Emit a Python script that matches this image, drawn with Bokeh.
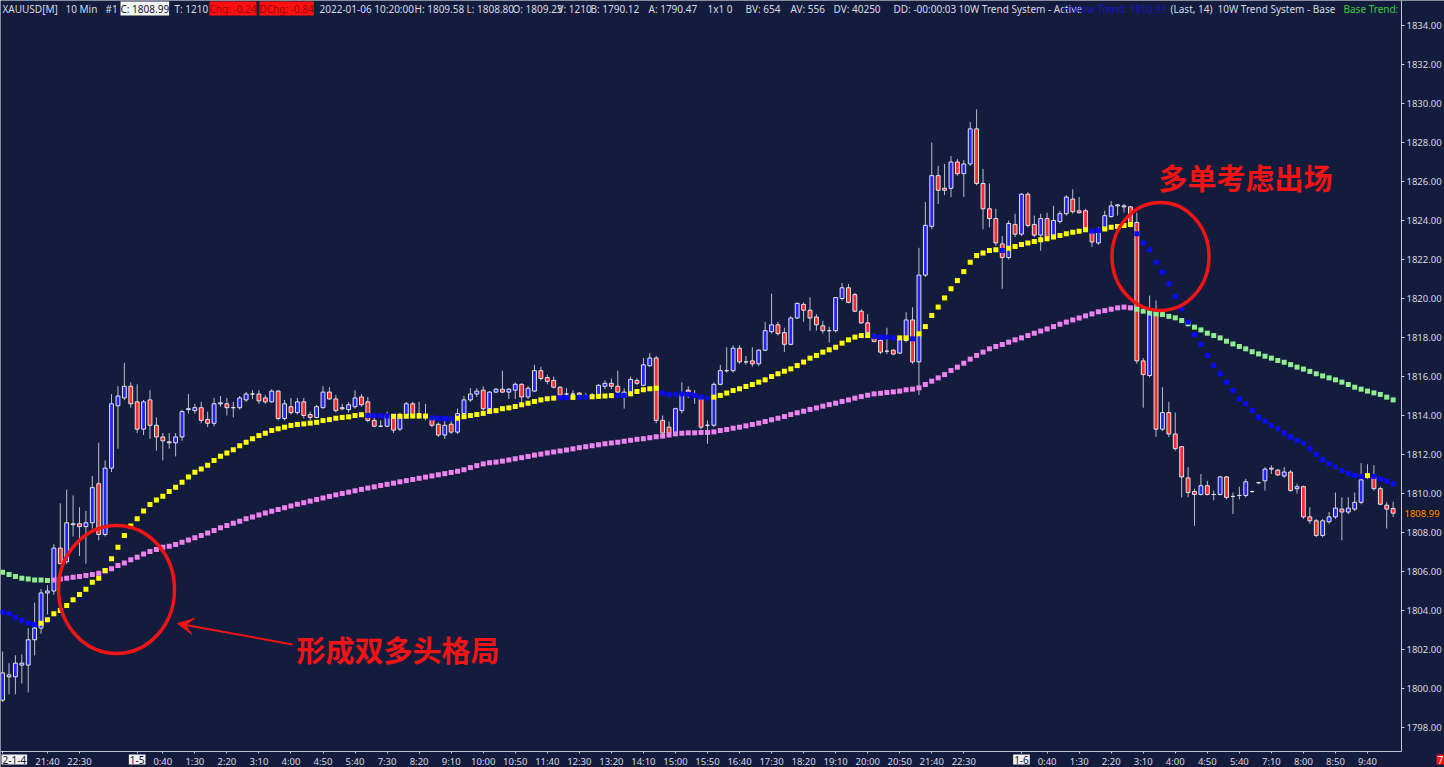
from bokeh.plotting import figure
from bokeh.models import (Range1d, FixedTicker, SingleIntervalTicker, NumeralTickFormatter,
                          Label, Arrow, VeeHead, ColumnDataSource)
from bokeh.embed import file_html
from bokeh.resources import INLINE

# ---------------- data (10-minute bars, XAUUSD) ----------------
open_ = [
    1799.4, 1800.6, 1800.6, 1801.2, 1801.2, 1802.5, 1803.1, 1804.9, 1805.0, 1807.2,
    1806.5, 1808.4, 1808.45, 1808.3, 1808.5, 1810.5, 1807.9, 1811.3, 1814.5, 1814.9,
    1815.5, 1814.7, 1813.3, 1814.8, 1813.5, 1812.9, 1812.65, 1812.6, 1812.9, 1814.3,
    1814.25, 1814.4, 1813.8, 1813.6, 1814.6, 1814.6, 1814.4, 1814.4, 1814.8, 1815.1,
    1815.1, 1814.9, 1814.7, 1815.25, 1813.85, 1814.45, 1814.15, 1814.7, 1814.05, 1813.9,
    1814.4, 1815.2, 1814.85, 1814.4, 1814.3, 1814.45, 1814.95, 1814.7, 1813.75, 1813.45,
    1813.45, 1813.85, 1813.3, 1814.05, 1814.6, 1814.1, 1813.95, 1813.85, 1813.55, 1813.0,
    1813.55, 1813.15, 1814.1, 1814.8, 1815.1, 1815.3, 1814.35, 1815.2, 1815.35, 1815.2,
    1815.3, 1815.6, 1814.95, 1815.25, 1816.3, 1815.95, 1815.8, 1815.45, 1815.1, 1815.1,
    1815.15, 1815.0, 1815.0, 1815.05, 1815.5, 1815.65, 1815.5, 1814.95, 1815.2, 1815.8,
    1815.55, 1816.55, 1816.95, 1813.75, 1813.4, 1813.05, 1814.25, 1815.3, 1815.1, 1814.85,
    1813.5, 1813.5, 1815.6, 1816.3, 1816.3, 1817.45, 1816.75, 1816.8, 1816.65, 1817.35,
    1818.3, 1818.65, 1818.25, 1817.65, 1819.0, 1819.7, 1819.4, 1819.05, 1818.6, 1818.35,
    1818.35, 1820.0, 1820.55, 1820.2, 1819.35, 1818.75, 1818.0, 1817.85, 1817.3, 1817.35,
    1817.2, 1817.85, 1818.9, 1816.75, 1821.2, 1823.7, 1826.3, 1825.65, 1825.65, 1827.0,
    1826.4, 1826.9, 1828.7, 1825.9, 1824.6, 1824.1, 1822.8, 1822.1, 1823.8, 1823.3,
    1825.35, 1823.8, 1823.25, 1824.1, 1823.25, 1823.95, 1824.35, 1825.1, 1824.5, 1824.5,
    1823.35, 1822.85, 1823.55, 1824.2, 1824.75, 1824.75, 1824.7, 1823.9, 1816.8, 1816.05,
    1819.4, 1813.3, 1814.15, 1813.05, 1812.4, 1810.8, 1810.1, 1809.95, 1810.4, 1809.95,
    1809.95, 1810.85, 1809.85, 1809.9, 1809.9, 1810.1, 1810.55, 1810.65, 1811.25, 1811.2,
    1810.9, 1811.1, 1810.25, 1810.35, 1808.8, 1808.6, 1807.85, 1808.55, 1808.8, 1809.2,
    1809.05, 1809.2, 1809.55, 1810.85, 1810.85, 1810.25, 1809.4, 1809.23,
]
high = [
    1801.9, 1801.3, 1801.7, 1801.75, 1803.1, 1804.4, 1805.1, 1805.3, 1807.4, 1809.5,
    1810.2, 1809.9, 1809.3, 1809.1, 1810.9, 1812.6, 1811.7, 1815.1, 1815.5, 1816.7,
    1815.7, 1815.6, 1814.8, 1815.3, 1813.9, 1813.1, 1813.1, 1813.1, 1814.3, 1815.1,
    1814.6, 1814.7, 1814.2, 1814.9, 1815.0, 1814.9, 1814.7, 1815.0, 1815.2, 1815.3,
    1815.3, 1815.05, 1815.35, 1815.3, 1814.8, 1814.9, 1814.9, 1814.9, 1814.2, 1814.55,
    1815.5, 1815.45, 1815.05, 1814.6, 1814.7, 1815.3, 1815.1, 1814.95, 1813.95, 1813.75,
    1814.2, 1814.05, 1814.15, 1814.7, 1814.7, 1814.7, 1814.6, 1814.0, 1813.65, 1813.75,
    1813.75, 1814.35, 1815.0, 1815.4, 1815.4, 1815.5, 1815.25, 1815.4, 1816.3, 1815.4,
    1815.7, 1815.65, 1815.5, 1816.6, 1816.5, 1816.1, 1816.0, 1815.5, 1815.4, 1815.3,
    1815.2, 1815.15, 1815.15, 1815.6, 1815.8, 1815.9, 1816.3, 1815.4, 1816.0, 1815.9,
    1816.95, 1817.2, 1817.05, 1814.0, 1813.7, 1814.4, 1815.7, 1815.5, 1815.3, 1814.95,
    1813.75, 1815.7, 1816.6, 1817.5, 1817.6, 1817.6, 1817.05, 1817.5, 1817.4, 1818.8,
    1820.25, 1818.8, 1818.5, 1819.1, 1819.8, 1819.8, 1820.05, 1819.2, 1818.85, 1818.55,
    1820.05, 1820.8, 1820.75, 1820.3, 1819.45, 1819.2, 1818.2, 1818.0, 1818.5, 1817.4,
    1818.0, 1819.3, 1819.55, 1822.6, 1824.95, 1828.0, 1826.8, 1826.9, 1827.3, 1827.15,
    1827.1, 1829.05, 1829.7, 1826.65, 1825.9, 1824.6, 1823.2, 1824.0, 1824.35, 1825.4,
    1825.45, 1824.25, 1824.35, 1824.4, 1824.75, 1824.5, 1825.3, 1825.6, 1825.2, 1824.6,
    1823.55, 1823.65, 1824.5, 1825.0, 1824.85, 1824.85, 1824.75, 1824.4, 1816.95, 1820.15,
    1819.9, 1815.45, 1814.7, 1814.15, 1812.4, 1811.35, 1810.25, 1811.0, 1810.65, 1810.15,
    1810.9, 1810.9, 1810.05, 1810.35, 1810.75, 1810.15, 1810.6, 1811.35, 1811.45, 1811.25,
    1811.35, 1811.2, 1810.5, 1810.4, 1809.3, 1808.7, 1808.7, 1809.05, 1810.05, 1809.8,
    1809.8, 1810.05, 1811.55, 1811.5, 1811.45, 1810.35, 1809.55, 1809.58,
]
low = [
    1799.3, 1799.7, 1799.7, 1800.25, 1799.8, 1801.7, 1802.8, 1803.8, 1804.8, 1806.4,
    1806.4, 1807.8, 1806.8, 1806.4, 1808.2, 1807.6, 1807.8, 1811.1, 1812.3, 1814.8,
    1814.4, 1813.1, 1813.0, 1812.8, 1812.2, 1811.7, 1812.3, 1811.9, 1812.7, 1814.1,
    1814.1, 1813.6, 1813.4, 1813.45, 1814.45, 1814.0, 1813.9, 1814.3, 1814.7, 1814.85,
    1814.6, 1814.6, 1814.65, 1813.75, 1813.75, 1814.05, 1814.05, 1813.85, 1813.75, 1813.85,
    1814.35, 1814.8, 1814.15, 1814.25, 1814.15, 1814.35, 1814.45, 1813.65, 1813.4, 1813.4,
    1813.4, 1813.1, 1813.2, 1813.95, 1813.95, 1813.85, 1813.75, 1813.4, 1812.9, 1812.8,
    1813.05, 1813.05, 1814.0, 1814.7, 1814.95, 1814.25, 1814.25, 1815.15, 1815.15, 1814.85,
    1814.85, 1814.6, 1814.85, 1815.2, 1815.8, 1815.6, 1815.4, 1814.95, 1814.95, 1814.95,
    1815.0, 1814.85, 1814.9, 1815.0, 1815.35, 1815.35, 1814.95, 1814.35, 1815.15, 1815.55,
    1815.5, 1816.5, 1813.6, 1812.95, 1812.9, 1812.95, 1814.1, 1814.9, 1814.6, 1813.3,
    1812.55, 1813.4, 1815.55, 1816.2, 1816.2, 1816.65, 1816.6, 1816.5, 1816.55, 1817.3,
    1818.2, 1818.1, 1817.25, 1817.6, 1818.95, 1818.8, 1818.35, 1818.35, 1818.2, 1817.75,
    1818.25, 1819.9, 1819.75, 1819.3, 1818.7, 1818.2, 1817.75, 1817.15, 1817.15, 1817.1,
    1817.15, 1817.75, 1816.65, 1815.05, 1821.1, 1823.55, 1824.85, 1825.3, 1825.2, 1826.3,
    1825.2, 1826.8, 1825.8, 1823.55, 1823.65, 1822.7, 1820.5, 1822.0, 1823.15, 1823.2,
    1823.65, 1823.15, 1822.45, 1823.05, 1823.15, 1823.85, 1824.25, 1824.35, 1824.35, 1823.5,
    1822.65, 1822.75, 1823.5, 1824.15, 1824.25, 1824.4, 1823.65, 1816.65, 1814.4, 1815.95,
    1812.9, 1813.2, 1812.9, 1812.2, 1809.8, 1809.8, 1808.35, 1809.9, 1809.9, 1809.65,
    1809.9, 1809.7, 1808.95, 1809.7, 1809.8, 1810.05, 1810.5, 1810.15, 1811.0, 1810.9,
    1810.8, 1810.1, 1810.0, 1808.7, 1808.45, 1807.75, 1807.75, 1808.45, 1808.7, 1807.6,
    1808.95, 1809.1, 1809.45, 1810.75, 1810.15, 1809.4, 1808.2, 1808.8,
]
close_ = [
    1800.8, 1800.7, 1801.3, 1801.3, 1802.5, 1803.1, 1804.9, 1805.0, 1807.2, 1806.4,
    1808.5, 1808.45, 1808.3, 1808.5, 1810.3, 1807.9, 1811.3, 1814.6, 1815.0, 1815.5,
    1814.6, 1813.3, 1814.7, 1813.5, 1812.9, 1812.7, 1812.6, 1812.9, 1814.2, 1814.35,
    1814.4, 1813.75, 1813.6, 1814.6, 1814.65, 1814.4, 1814.4, 1814.9, 1815.1, 1815.1,
    1814.75, 1814.7, 1815.25, 1813.85, 1814.6, 1814.15, 1814.7, 1814.0, 1813.9, 1814.45,
    1815.2, 1814.85, 1814.25, 1814.35, 1814.55, 1814.9, 1814.55, 1813.75, 1813.45, 1813.45,
    1814.0, 1813.25, 1814.05, 1814.6, 1814.05, 1814.1, 1813.95, 1813.5, 1813.0, 1813.5,
    1813.15, 1814.1, 1814.8, 1815.1, 1815.25, 1814.35, 1815.2, 1815.35, 1815.2, 1815.35,
    1815.6, 1814.95, 1815.4, 1816.3, 1815.9, 1815.75, 1815.45, 1815.05, 1815.1, 1815.1,
    1815.05, 1815.0, 1815.05, 1815.55, 1815.65, 1815.5, 1815.2, 1815.2, 1815.85, 1815.65,
    1816.6, 1816.95, 1813.75, 1813.1, 1813.1, 1814.35, 1815.1, 1815.2, 1815.1, 1813.4,
    1813.5, 1815.6, 1816.3, 1816.3, 1817.45, 1816.75, 1816.75, 1816.65, 1817.35, 1818.35,
    1818.65, 1818.2, 1817.65, 1819.0, 1819.75, 1819.4, 1819.0, 1818.65, 1818.35, 1818.35,
    1820.05, 1820.55, 1819.8, 1819.35, 1818.75, 1818.25, 1817.8, 1817.25, 1817.3, 1817.15,
    1817.9, 1818.9, 1816.75, 1821.2, 1823.75, 1826.3, 1825.55, 1825.55, 1827.0, 1826.4,
    1826.9, 1828.7, 1825.9, 1824.6, 1824.1, 1822.85, 1822.1, 1823.85, 1823.3, 1825.35,
    1823.75, 1823.25, 1824.1, 1823.15, 1824.0, 1824.35, 1825.2, 1824.45, 1824.4, 1823.6,
    1822.9, 1823.4, 1824.25, 1824.75, 1824.8, 1824.7, 1823.85, 1816.8, 1816.1, 1819.4,
    1813.3, 1814.15, 1813.05, 1812.3, 1810.85, 1810.05, 1809.95, 1810.4, 1809.95, 1809.95,
    1810.85, 1809.8, 1809.85, 1809.9, 1810.6, 1810.1, 1810.55, 1811.25, 1811.3, 1810.95,
    1811.1, 1810.15, 1810.35, 1808.8, 1808.6, 1807.85, 1808.6, 1808.8, 1809.25, 1809.05,
    1809.25, 1809.55, 1810.7, 1810.85, 1810.25, 1809.45, 1809.2, 1808.99,
]

# "10W Trend System - Active" line (u = yellow / rising, d = blue / falling)
fast_vals = [
    1803.91, 1803.83, 1803.66, 1803.49, 1803.35, 1803.28, 1803.35, 1803.52, 1803.83, 1804.00,
    1804.26, 1804.55, 1804.82, 1805.09, 1805.45, 1805.66, 1806.05, 1806.65, 1807.25, 1807.85,
    1808.33, 1808.70, 1809.10, 1809.43, 1809.67, 1809.86, 1810.10, 1810.32, 1810.58, 1810.84,
    1811.09, 1811.26, 1811.45, 1811.69, 1811.91, 1812.08, 1812.24, 1812.45, 1812.63, 1812.81,
    1812.97, 1813.09, 1813.23, 1813.32, 1813.40, 1813.49, 1813.54, 1813.57, 1813.61, 1813.65,
    1813.74, 1813.79, 1813.86, 1813.90, 1813.93, 1814.00, 1814.04, 1814.00, 1814.00, 1813.98,
    1813.98, 1813.96, 1813.96, 1813.96, 1813.97, 1813.97, 1813.97, 1813.88, 1813.86, 1813.84,
    1813.83, 1813.86, 1813.94, 1814.00, 1814.05, 1814.11, 1814.21, 1814.25, 1814.35, 1814.39,
    1814.46, 1814.55, 1814.63, 1814.72, 1814.80, 1814.86, 1814.89, 1814.91, 1814.91, 1814.93,
    1814.93, 1814.94, 1814.96, 1814.98, 1815.00, 1815.02, 1815.03, 1815.03, 1815.11, 1815.23,
    1815.32, 1815.37, 1815.40, 1815.15, 1815.08, 1815.08, 1815.11, 1815.08, 1815.03, 1814.94,
    1814.89, 1814.94, 1815.03, 1815.15, 1815.28, 1815.37, 1815.49, 1815.59, 1815.71, 1815.83,
    1816.00, 1816.14, 1816.27, 1816.39, 1816.56, 1816.74, 1816.94, 1817.08, 1817.25, 1817.37,
    1817.50, 1817.71, 1817.88, 1818.02, 1818.10, 1818.10, 1818.05, 1818.02, 1818.02, 1817.98,
    1817.98, 1817.98, 1817.93, 1818.19, 1818.56, 1819.13, 1819.56, 1820.03, 1820.50, 1820.92,
    1821.38, 1821.86, 1822.20, 1822.33, 1822.46, 1822.50, 1822.46, 1822.58, 1822.67, 1822.77,
    1822.84, 1822.92, 1823.01, 1823.06, 1823.15, 1823.23, 1823.32, 1823.40, 1823.45, 1823.52,
    1823.45, 1823.49, 1823.57, 1823.66, 1823.69, 1823.74, 1823.79, 1823.32, 1822.85, 1822.50,
    1821.86, 1821.35, 1820.75, 1820.10, 1819.47, 1818.79, 1818.15, 1817.64, 1817.08, 1816.56,
    1816.14, 1815.71, 1815.28, 1814.85, 1814.60, 1814.26, 1813.91, 1813.71, 1813.49, 1813.32,
    1813.10, 1812.89, 1812.72, 1812.58, 1812.29, 1812.00, 1811.73, 1811.52, 1811.35, 1811.18,
    1811.04, 1810.92, 1810.87, 1810.92, 1810.87, 1810.75, 1810.63, 1810.50,
]
fast_state = ("dddddduuuu" "uuuuuuuuuu" "uuuuuuuuuu" "uuuuuuuuuu" "uuuuuuuuuu"
              "uuuuuuuddd" "duuuuuuddd" "duuuuuuuuu" "uuuuuuuddu" "dduuuudduu"
              "uuuddddddd" "duuuuuuuuu" "uuuuuuuuuu" "uuuuuudddd" "uuduuuuuuu"
              "uuuuuuduuu" "uuuuuuuuuu" "dduuuuuddd" "dddddddddd" "dddddddddd"
              "dddddddddd" "dddudddd")

# "10W Trend System - Base" line (p = pink / rising, g = green / falling)
slow_vals = [
    1805.96, 1805.85, 1805.74, 1805.66, 1805.61, 1805.57, 1805.57, 1805.54, 1805.57, 1805.62,
    1805.66, 1805.71, 1805.74, 1805.79, 1805.85, 1805.91, 1806.02, 1806.14, 1806.31, 1806.44,
    1806.60, 1806.73, 1806.90, 1807.03, 1807.13, 1807.25, 1807.30, 1807.38, 1807.50, 1807.62,
    1807.73, 1807.85, 1807.97, 1808.10, 1808.24, 1808.36, 1808.48, 1808.58, 1808.70, 1808.80,
    1808.90, 1809.00, 1809.09, 1809.18, 1809.27, 1809.36, 1809.45, 1809.53, 1809.61, 1809.69,
    1809.77, 1809.85, 1809.93, 1810.00, 1810.07, 1810.14, 1810.21, 1810.28, 1810.34, 1810.41,
    1810.47, 1810.53, 1810.60, 1810.66, 1810.72, 1810.78, 1810.84, 1810.90, 1810.96, 1811.02,
    1811.08, 1811.14, 1811.22, 1811.33, 1811.43, 1811.52, 1811.58, 1811.61, 1811.66, 1811.72,
    1811.78, 1811.84, 1811.90, 1811.97, 1812.02, 1812.08, 1812.13, 1812.18, 1812.23, 1812.29,
    1812.35, 1812.40, 1812.45, 1812.50, 1812.55, 1812.59, 1812.63, 1812.68, 1812.73, 1812.78,
    1812.81, 1812.86, 1812.91, 1812.94, 1813.00, 1813.06, 1813.09, 1813.11, 1813.11, 1813.13,
    1813.13, 1813.16, 1813.23, 1813.28, 1813.35, 1813.40, 1813.47, 1813.54, 1813.61, 1813.69,
    1813.78, 1813.86, 1813.95, 1814.05, 1814.14, 1814.22, 1814.31, 1814.39, 1814.48, 1814.56,
    1814.63, 1814.72, 1814.80, 1814.89, 1814.97, 1815.04, 1815.11, 1815.14, 1815.18, 1815.21,
    1815.25, 1815.32, 1815.35, 1815.42, 1815.59, 1815.76, 1815.93, 1816.10, 1816.31, 1816.48,
    1816.68, 1816.89, 1817.08, 1817.25, 1817.42, 1817.54, 1817.64, 1817.76, 1817.88, 1817.98,
    1818.10, 1818.22, 1818.33, 1818.44, 1818.56, 1818.68, 1818.79, 1818.90, 1819.00, 1819.11,
    1819.21, 1819.32, 1819.38, 1819.45, 1819.52, 1819.56, 1819.52, 1819.45, 1819.35, 1819.25,
    1819.21, 1819.18, 1819.08, 1819.01, 1818.87, 1818.70, 1818.53, 1818.39, 1818.22, 1818.10,
    1817.98, 1817.81, 1817.67, 1817.54, 1817.42, 1817.27, 1817.16, 1817.04, 1816.94, 1816.82,
    1816.73, 1816.61, 1816.48, 1816.38, 1816.26, 1816.14, 1816.03, 1815.93, 1815.83, 1815.71,
    1815.59, 1815.45, 1815.35, 1815.25, 1815.16, 1815.08, 1814.94, 1814.80,
]
slow_state = ("ggggggggpp" + "pppppppppp" * 16 + "pppppppggg"
              + "gggggggggg" * 3 + "gggggggg")

tick_idx = [7, 12, 25, 30, 35, 40, 45, 50, 55, 60, 65, 70, 75, 80, 85, 90, 95, 100, 105,
            110, 115, 120, 125, 130, 135, 140, 145, 150, 163, 168, 173, 178, 183, 188,
            193, 198, 203, 208, 213]
tick_text = ["21:40", "22:30", "0:40", "1:30", "2:20", "3:10", "4:00", "4:50", "5:40",
             "7:30", "8:20", "9:10", "10:00", "10:50", "11:40", "12:30", "13:20", "14:10",
             "15:00", "15:50", "16:40", "17:30", "18:20", "19:10", "20:00", "20:50",
             "21:40", "22:30", "0:40", "1:30", "2:20", "3:10", "4:00", "4:50", "5:40",
             "7:10", "8:00", "8:50", "9:40"]
day_idx = [0, 21, 159]
day_text = ["2-1-4", "1-5", "1-6"]   # first day marker is shown truncated at the left edge

# ---------------- styling / layout ----------------
BG = "#141c3d"
TXT = "#d6dae4"
AX = "#c4c8d4"
UP_FILL = "#2323ff"
DN_FILL = "#ff2b2b"
FONT = "Noto Sans"

W, H = 1444, 767


def px_x(px):  # reference pixel column -> bar coordinate (layout helper)
    return (px - 2.1) / 6.408


def px_y(py):  # reference pixel row -> price coordinate (layout helper)
    return 1834.0 - (py - 25.0) / 19.5


# the frame covers the whole canvas; the axes are pinned at fixed locations
X0, X1 = px_x(0), px_x(W)
Y0, Y1 = px_y(H), px_y(0)
AXIS_X = px_x(1401)
AXIS_Y = px_y(751)

n = len(close_)
idx = list(range(n))

p = figure(width=W, height=H, x_range=Range1d(X0, X1), y_range=Range1d(Y0, Y1),
           y_axis_location="right", output_backend="svg", toolbar_location=None,
           background_fill_color=BG, border_fill_color=BG, outline_line_color=None,
           min_border=0, min_border_left=0, min_border_top=0, min_border_right=0,
           min_border_bottom=0)
p.grid.visible = False

# candles
body_col = [UP_FILL if c > o else (DN_FILL if c < o else "#e8e8f2") for o, c in zip(open_, close_)]
src = ColumnDataSource(dict(x=idx, h=high, l=low,
                            top=[max(o, c) for o, c in zip(open_, close_)],
                            bot=[min(o, c) for o, c in zip(open_, close_)],
                            col=body_col))
p.segment(x0="x", y0="h", x1="x", y1="l", source=src, line_color="#b9bdcc", line_width=1)
p.vbar(x="x", width=0.6, top="top", bottom="bot", fill_color="col",
       line_color="#e4e4ee", line_width=1, source=src)

# indicator dots
slow_col = ["#ee82ee" if s == "p" else "#90ee90" for s in slow_state]
fast_col = ["#ffff00" if s == "u" else "#0a0aff" for s in fast_state]
p.scatter(idx, slow_vals, marker="square", size=5, color=slow_col, line_color=None)
p.scatter(idx, fast_vals, marker="square", size=5, color=fast_col, line_color=None)

# axes (pinned inside the frame so that no side panel is reserved)
yax = p.yaxis[0]
yax.fixed_location = AXIS_X
yax.bounds = (AXIS_Y, Y1)
yax.ticker = SingleIntervalTicker(interval=2, num_minor_ticks=0)
yax.formatter = NumeralTickFormatter(format="0.00")
yax.axis_line_color = AX
yax.major_tick_line_color = AX
yax.minor_tick_line_color = None
yax.major_tick_out = 3
yax.major_tick_in = 0
yax.major_label_text_color = TXT
yax.major_label_text_font = FONT
yax.major_label_text_font_size = "9.5px"
yax.major_label_standoff = 2

xax = p.xaxis[0]
xax.fixed_location = AXIS_Y
xax.bounds = (X0, AXIS_X)
xax.ticker = FixedTicker(ticks=tick_idx + day_idx)
ov = {t: s for t, s in zip(tick_idx, tick_text)}
ov.update({d: " " for d in day_idx})
xax.major_label_overrides = ov
xax.axis_line_color = AX
xax.major_tick_line_color = AX
xax.minor_tick_line_color = None
xax.major_tick_out = 2
xax.major_tick_in = 0
xax.major_label_text_color = TXT
xax.major_label_text_font = FONT
xax.major_label_text_font_size = "9.5px"
xax.major_label_standoff = 1

# day markers under the time axis
day_y = px_y(759)
for k, (d, s) in enumerate(zip(day_idx, day_text)):
    if k == 0:
        pos = dict(x=px_x(1), text_align="left")
    else:
        pos = dict(x=d, text_align="center")
    p.add_layout(Label(y=day_y, text=s, text_baseline="middle", text_font=FONT,
                       text_font_size="10px", text_color="#10162e",
                       background_fill_color="#f2f2f2", padding=1, **pos))

# header line
hy = px_y(8)
header = [
    (2, "XAUUSD[M]", TXT, None), (65, "10 Min", TXT, None), (105, "#1", TXT, None),
    (120, "C: 1808.99", "#10162e", "#f4f4f4"), (174, "T: 1210", TXT, None),
    (209, "Chg: -0.24", "#9a0000", "#ff1010"), (259, "DChg: -0.84", "#9a0000", "#ff1010"),
    (319, "2022-01-06 10:20:00", TXT, None), (414, "H: 1809.58", TXT, None),
    (466, "L: 1808.80", TXT, None), (512, "O: 1809.23", TXT, None), (557, "V: 1210", TXT, None),
    (590, "B: 1790.12", TXT, None), (648, "A: 1790.47", TXT, None), (707, "1x1 0", TXT, None),
    (745, "BV: 654", TXT, None), (790, "AV: 556", TXT, None), (833, "DV: 40250", TXT, None),
    (893, "DD: -00:00:03", TXT, None), (958, "10W Trend System - Active", TXT, None),
    (1062, "Hollow Trend: 1810.91", "#1414c8", None), (1170, "(Last, 14)", TXT, None),
    (1217, "10W Trend System - Base", TXT, None), (1343, "Base Trend:", "#3cc83c", None),
]
for px, s, col, bg in header:
    kw = dict(background_fill_color=bg) if bg else {}
    p.add_layout(Label(x=px_x(px), y=hy, text=s, text_align="left", text_baseline="middle",
                       text_font=FONT, text_font_size="10px", text_color=col, **kw))

# last price tag and corner marker
p.add_layout(Label(x=px_x(1404), y=close_[-1], text=f"{close_[-1]:.2f}", text_align="left",
                   text_baseline="middle", text_font=FONT, text_font_size="9.5px",
                   text_color="#ff9a1a", background_fill_color="#1c120a"))
p.add_layout(Label(x=px_x(1436), y=px_y(759), text="7", text_align="left",
                   text_baseline="middle", text_font=FONT, text_font_size="10px",
                   text_color="#ffffff", background_fill_color="#ff1010", padding=1))

# annotations
RED = "#f01414"
p.ellipse(x=[px_x(116), px_x(1160)], y=[px_y(589), px_y(256)],
          width=[116 / 6.408, 97 / 6.408], height=[128 / 19.5, 108 / 19.5],
          fill_alpha=0, line_color=RED, line_width=3.5)
p.add_layout(Arrow(end=VeeHead(size=16, fill_color=RED, line_color=RED, line_width=1),
                   x_start=px_x(292), y_start=px_y(644), x_end=px_x(177), y_end=px_y(623),
                   line_color=RED, line_width=2))
p.add_layout(Label(x=px_x(296), y=px_y(648), text="形成双多头格局", text_align="left",
                   text_baseline="middle", text_font="Noto Sans CJK SC", text_font_style="bold",
                   text_font_size="29px", text_color=RED))
p.add_layout(Label(x=px_x(1158), y=px_y(176), text="多单考虑出场", text_align="left",
                   text_baseline="middle", text_font="Noto Sans CJK SC", text_font_style="bold",
                   text_font_size="29px", text_color=RED))

open("out.html", "w").write(file_html(p, INLINE))
